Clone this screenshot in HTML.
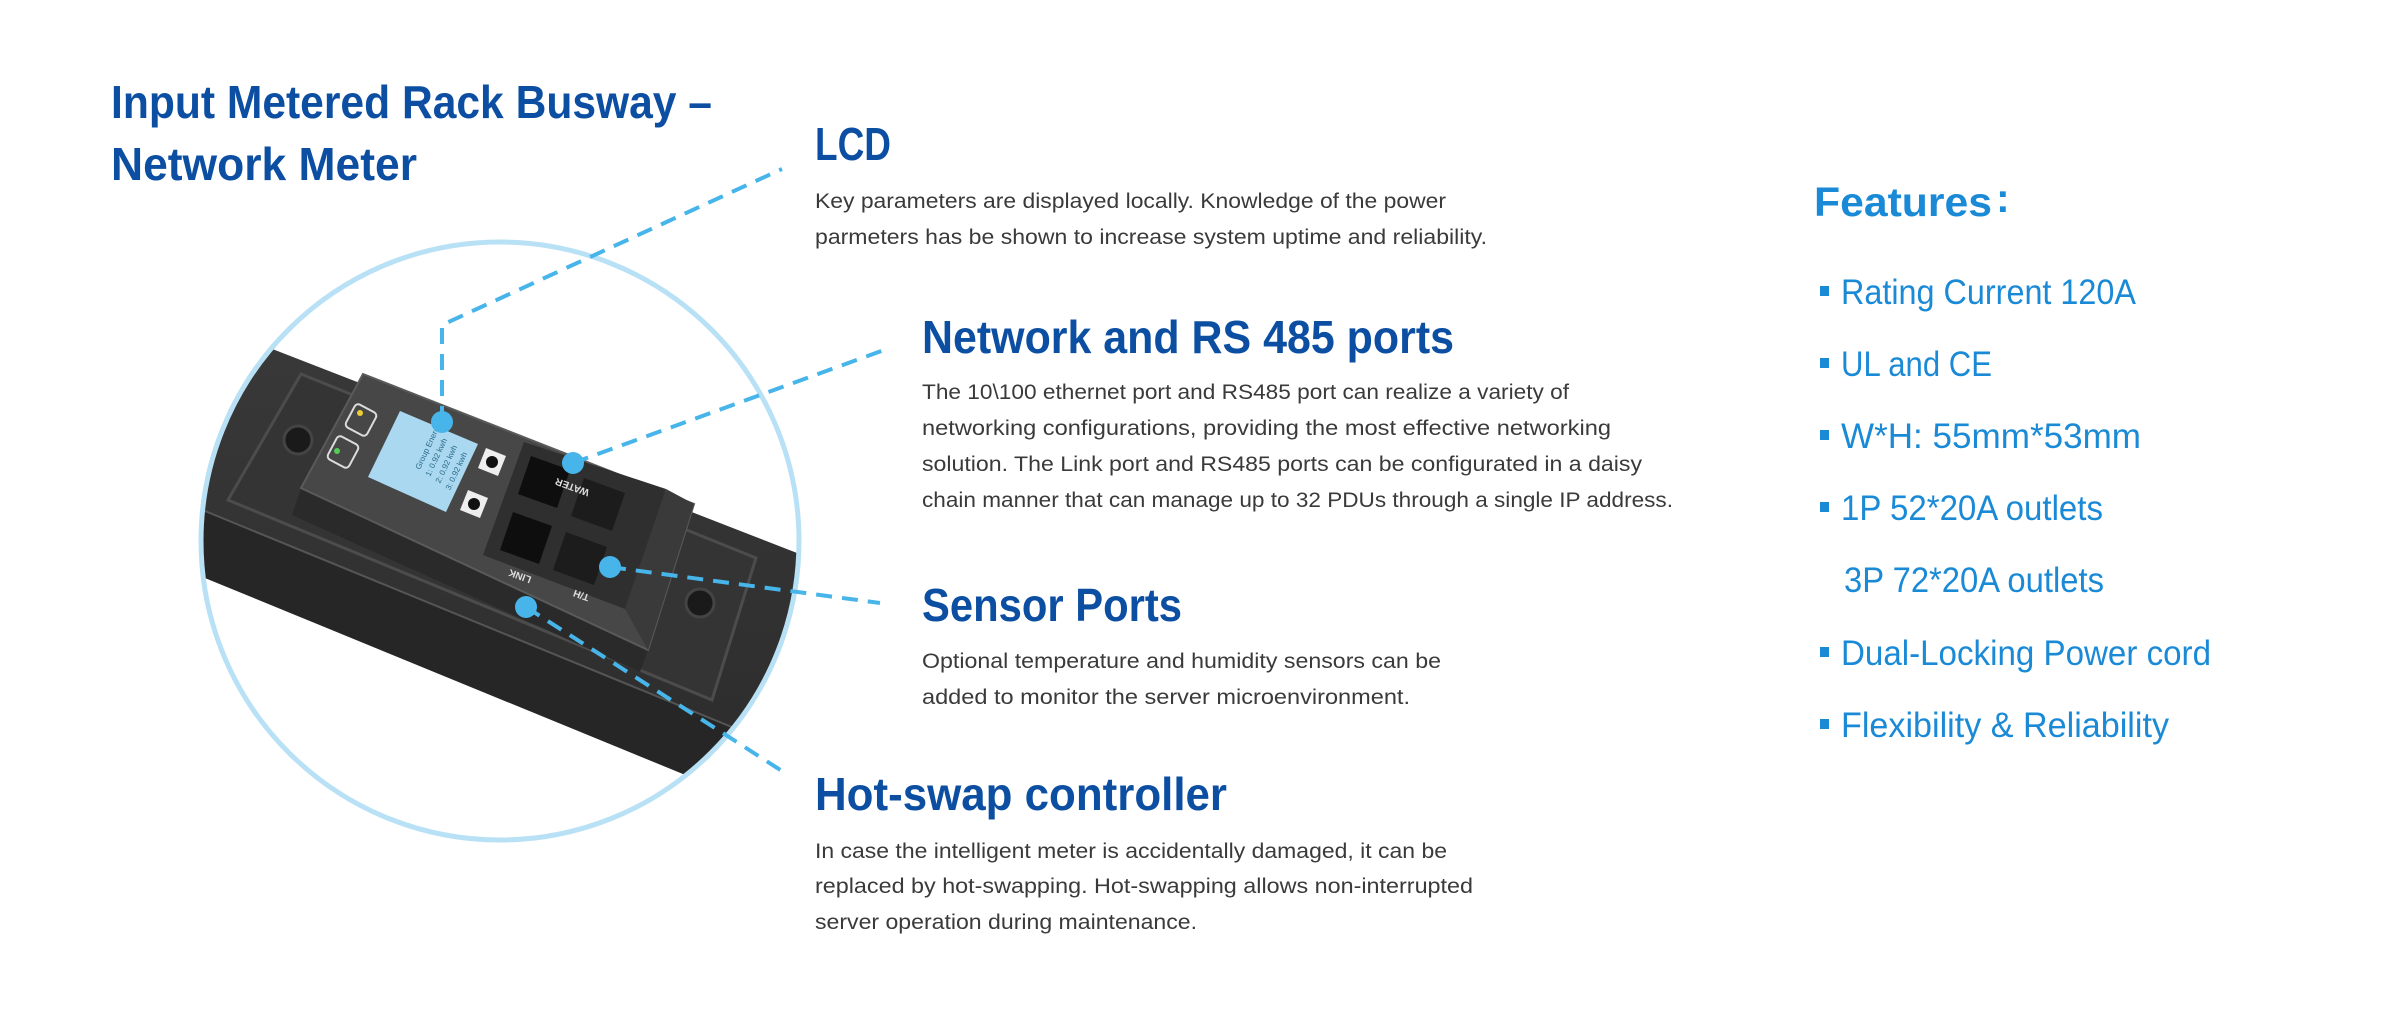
<!DOCTYPE html>
<html><head><meta charset="utf-8"><style>
html,body{margin:0;padding:0;background:#fff;}
svg{display:block}
.h{font-family:"Liberation Sans",sans-serif;font-weight:bold;fill:#0c4fa2;font-size:46px}
.b{font-family:"Liberation Sans",sans-serif;fill:#3a3a3a;font-size:21px}
.f{font-family:"Liberation Sans",sans-serif;fill:#1a8ad6;font-size:35px}
</style></head><body>
<svg width="2400" height="1020" viewBox="0 0 2400 1020" xmlns="http://www.w3.org/2000/svg">
<defs>
<clipPath id="c"><circle cx="500" cy="541" r="297"/></clipPath>
<linearGradient id="tg" x1="0" y1="0" x2="0" y2="1"><stop offset="0" stop-color="#3a3a3a"/><stop offset="1" stop-color="#2c2c2c"/></linearGradient>
</defs>
<!-- device -->
<g clip-path="url(#c)">
<polygon points="100,282 900,593 900,796 100,468" fill="url(#tg)"/>
<polygon points="100,468 900,796 900,863 100,535" fill="#262626"/>
<line x1="100" y1="468" x2="900" y2="796" stroke="#555" stroke-width="2"/>
<polygon points="301,374 756,558 712,700 228,500" fill="#343434" stroke="#4c4c4c" stroke-width="3"/>
<circle cx="298" cy="440" r="14" fill="#1a1a1a" stroke="#444" stroke-width="3"/>
<circle cx="700" cy="603" r="14" fill="#1a1a1a" stroke="#444" stroke-width="3"/>
<polygon points="301,488 648,650 640,672 292,515" fill="#2a2a2a"/>
<polygon points="363,374 694,504 648,650 301,488" fill="#474747" stroke="#5a5a5a" stroke-width="2"/>
<polygon points="400,411 478,444 446,512 368,477" fill="#a9d8f0"/>
<g transform="translate(420,470) rotate(-65)" font-family="Liberation Sans,sans-serif" font-size="8" fill="#2d6a8a">
<text x="0" y="0">Group Energy</text><text x="-2" y="12">1: 0.92 kwh</text><text x="-4" y="24">2: 0.92 kwh</text><text x="-6" y="36">3: 0.92 kwh</text></g>
<rect x="330" y="440" width="26" height="24" rx="4" fill="none" stroke="#ddd" stroke-width="2" transform="rotate(-62 343 452)"/>
<rect x="348" y="408" width="26" height="24" rx="4" fill="none" stroke="#ddd" stroke-width="2" transform="rotate(-62 361 420)"/>
<circle cx="337" cy="451" r="3" fill="#5c5"/><circle cx="360" cy="413" r="3" fill="#ec3"/>
<polygon points="486,448 506,456 498,476 478,468" fill="#eee"/><circle cx="492" cy="462" r="6" fill="#111"/>
<polygon points="468,490 488,498 480,518 460,510" fill="#eee"/><circle cx="474" cy="504" r="6" fill="#111"/>
<polygon points="524,442 666,489 625,609 483,555" fill="#2f2f2f"/>
<polygon points="531,456 570,470 557,508 518,494" fill="#0e0e0e"/>
<polygon points="513,512 552,526 539,564 500,550" fill="#0e0e0e"/>
<polygon points="584,478 625,493 612,531 571,516" fill="#1c1c1c"/>
<polygon points="566,532 607,547 594,585 553,570" fill="#1c1c1c"/>
<polygon points="666,489 694,504 648,650 625,609" fill="#3a3a3a"/>
<g font-family="Liberation Sans,sans-serif" font-size="10" font-weight="bold" fill="#ddd">
<text transform="translate(590,490) rotate(200)">WATER</text>
<text transform="translate(532,577) rotate(200)">LINK</text>
<text transform="translate(590,595) rotate(200)">T/H</text></g>
</g>
<circle cx="500" cy="541" r="299" fill="none" stroke="#b9e1f6" stroke-width="5"/>
<!-- connectors -->
<g stroke="#47b5ea" stroke-width="4" stroke-dasharray="16,10" fill="none">
<polyline points="442,422 442,325 782,169"/>
<line x1="573" y1="463" x2="884" y2="350"/>
<line x1="610" y1="567" x2="880" y2="603"/>
<line x1="526" y1="607" x2="782" y2="771"/>
</g>
<g fill="#47b5ea"><circle cx="442" cy="422" r="11"/><circle cx="573" cy="463" r="11"/><circle cx="610" cy="567" r="11"/><circle cx="526" cy="607" r="11"/></g>
<!-- text -->
<text class="h" x="111" y="118" textLength="601" lengthAdjust="spacingAndGlyphs">Input Metered Rack Busway –</text>
<text class="h" x="111" y="180" textLength="306" lengthAdjust="spacingAndGlyphs">Network Meter</text>
<text class="h" x="815" y="160" textLength="76" lengthAdjust="spacingAndGlyphs">LCD</text>
<text class="b" x="815" y="208" textLength="631" lengthAdjust="spacingAndGlyphs">Key parameters are displayed locally. Knowledge of the power</text>
<text class="b" x="815" y="244" textLength="672" lengthAdjust="spacingAndGlyphs">parmeters has be shown to increase system uptime and reliability.</text>
<text class="h" x="922" y="353" textLength="532" lengthAdjust="spacingAndGlyphs">Network and RS 485 ports</text>
<text class="b" x="922" y="399" textLength="647" lengthAdjust="spacingAndGlyphs">The 10\100 ethernet port and RS485 port can realize a variety of</text>
<text class="b" x="922" y="435" textLength="689" lengthAdjust="spacingAndGlyphs">networking configurations, providing the most effective networking</text>
<text class="b" x="922" y="471" textLength="720" lengthAdjust="spacingAndGlyphs">solution. The Link port and RS485 ports  can be configurated in a  daisy</text>
<text class="b" x="922" y="507" textLength="751" lengthAdjust="spacingAndGlyphs">chain manner that can manage up to 32 PDUs through a single IP address.</text>
<text class="h" x="922" y="621" textLength="260" lengthAdjust="spacingAndGlyphs">Sensor Ports</text>
<text class="b" x="922" y="668" textLength="519" lengthAdjust="spacingAndGlyphs">Optional temperature and humidity sensors can be</text>
<text class="b" x="922" y="704" textLength="488" lengthAdjust="spacingAndGlyphs">added to monitor the server microenvironment.</text>
<text class="h" x="815" y="810" textLength="412" lengthAdjust="spacingAndGlyphs">Hot-swap controller</text>
<text class="b" x="815" y="858" textLength="632" lengthAdjust="spacingAndGlyphs">In case the intelligent meter is accidentally damaged, it can be</text>
<text class="b" x="815" y="893" textLength="658" lengthAdjust="spacingAndGlyphs">replaced by hot-swapping. Hot-swapping allows non-interrupted</text>
<text class="b" x="815" y="929" textLength="382" lengthAdjust="spacingAndGlyphs">server operation during maintenance.</text>
<text class="h" x="1814" y="216" style="fill:#1a8ad6;font-size:41px" textLength="178" lengthAdjust="spacingAndGlyphs">Features</text>
<text class="h" x="1996" y="212" style="fill:#1a8ad6;font-size:41px">:</text>
<g fill="#1a8ad6">
<rect x="1820" y="286" width="9" height="10"/><rect x="1820" y="358" width="9" height="10"/><rect x="1820" y="430" width="9" height="10"/><rect x="1820" y="502" width="9" height="10"/><rect x="1820" y="647" width="9" height="10"/><rect x="1820" y="719" width="9" height="10"/>
</g>
<text class="f" x="1841" y="304" textLength="295" lengthAdjust="spacingAndGlyphs">Rating Current 120A</text>
<text class="f" x="1841" y="376" textLength="151" lengthAdjust="spacingAndGlyphs">UL and CE</text>
<text class="f" x="1841" y="448" textLength="300" lengthAdjust="spacingAndGlyphs">W*H:  55mm*53mm</text>
<text class="f" x="1841" y="520" textLength="262" lengthAdjust="spacingAndGlyphs">1P 52*20A outlets</text>
<text class="f" x="1844" y="592" textLength="260" lengthAdjust="spacingAndGlyphs">3P 72*20A outlets</text>
<text class="f" x="1841" y="665" textLength="370" lengthAdjust="spacingAndGlyphs">Dual-Locking Power cord</text>
<text class="f" x="1841" y="737" textLength="328" lengthAdjust="spacingAndGlyphs">Flexibility &amp; Reliability</text>
</svg>
</body></html>
